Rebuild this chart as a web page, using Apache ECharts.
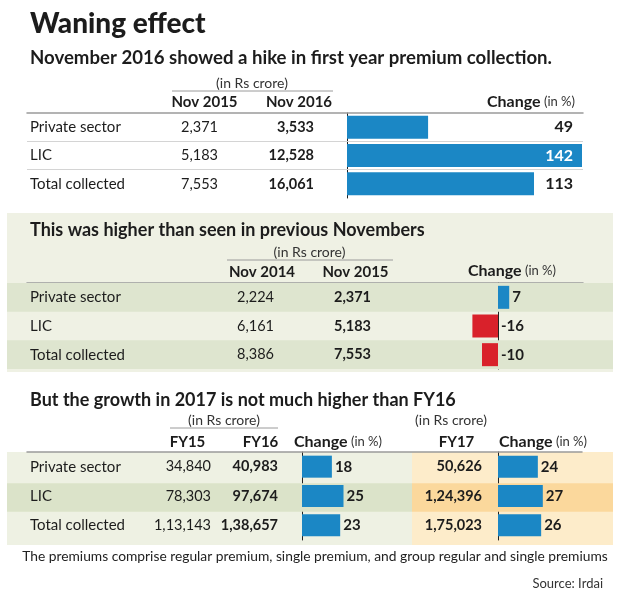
<!DOCTYPE html>
<html><head><meta charset="utf-8">
<script src="https://cdn.jsdelivr.net/npm/echarts@6/dist/echarts.min.js"></script>
<style>html,body{margin:0;padding:0;background:#fff}#c{width:621px;height:597px}</style>
</head><body><div id="c"></div>
<script>
// ---------- DATA ----------
const rows = ['Private sector', 'LIC', 'Total collected'];
// Table 1: Nov 2015 vs Nov 2016
const nov2015 = [2371, 5183, 7553];
const nov2016 = [3533, 12528, 16061];
const change1 = [49, 142, 113];
// Table 2: Nov 2014 vs Nov 2015
const nov2014 = [2224, 6161, 8386];
const nov2015b = [2371, 5183, 7553];
const change2 = [7, -16, -10];
// Table 3: FY15, FY16, FY17
const fy15 = [34840, 78303, 113143];
const fy16 = [40983, 97674, 138657];
const changeFy16 = [18, 25, 23];
const fy17 = [50626, 124396, 175023];
const changeFy17 = [24, 27, 26];
// Texts
const titleText = 'Waning effect';
const sub1 = 'November 2016 showed a hike in first year premium collection.';
const sub2 = 'This was higher than seen in previous Novembers';
const sub3 = 'But the growth in 2017 is not much higher than FY16';
const unitText = '(in Rs crore)';
const headers1 = ['Nov 2015', 'Nov 2016'];
const headers2 = ['Nov 2014', 'Nov 2015'];
const headers3 = ['FY15', 'FY16', 'FY17'];
const changeHead = '{b|Change} {n|(in %)}';
const footnote = 'The premiums comprise regular premium, single premium, and group regular and single premiums';
const sourceText = 'Source: Irdai';

// ---------- STYLE ----------
const FONT = 'Lato';
const INK = '#1c1c1c';
const BLUE = '#1b87c5';
const RED = '#d9212b';
const NUM = 14.5;

function inr(n) {
  const neg = n < 0; let s = String(Math.abs(n));
  if (s.length > 3) {
    const last3 = s.slice(-3); let rest = s.slice(0, -3); const parts = [];
    while (rest.length > 2) { parts.unshift(rest.slice(-2)); rest = rest.slice(0, -2); }
    if (rest) parts.unshift(rest);
    s = parts.join(',') + ',' + last3;
  }
  return (neg ? '-' : '') + s;
}

const grids = [], xAxes = [], yAxes = [], series = [], graphics = [];
function addGrid(left, top, width, height) {
  grids.push({left, top, width, height, containLabel: false, outerBoundsMode: 'none'});
  return grids.length - 1;
}
function headerX(gi, show) {
  xAxes.push({type: 'value', gridIndex: gi, min: 0, max: 1, position: 'top', show: true,
    axisLine: {show: show, onZero: false, lineStyle: {color: '#9a9a9a', width: 1.5}},
    axisTick: {show: false}, axisLabel: {show: false}, splitLine: {show: false}});
}
function col(gi, data, margin, opts) {
  yAxes.push({type: 'category', gridIndex: gi, inverse: true, data, position: 'left', z: 10,
    axisLine: {show: false}, axisTick: {show: false}, splitLine: {show: false},
    axisLabel: Object.assign({show: true, inside: true, margin, align: 'left', interval: 0,
      fontFamily: FONT, fontSize: NUM, color: INK, hideOverlap: false}, opts)});
  return yAxes.length - 1;
}
function bandAxis(gi, colors) {
  xAxes.push({type: 'value', gridIndex: gi, min: 0, max: 1, show: false});
  yAxes.push({type: 'category', gridIndex: gi, inverse: true, data: rows, z: 1,
    axisLine: {show: false}, axisTick: {show: false}, axisLabel: {show: false},
    splitLine: {show: false}, splitArea: {show: true, areaStyle: {color: colors}}});
}
function barAxes(gi, min, max) {
  xAxes.push({type: 'value', gridIndex: gi, min, max, show: false});
  yAxes.push({type: 'category', gridIndex: gi, inverse: true, data: rows,
    axisLine: {show: true, onZero: true, lineStyle: {color: '#222', width: 1}},
    axisTick: {show: false}, axisLabel: {show: false}, splitLine: {show: false}});
  return [xAxes.length - 1, yAxes.length - 1];
}
function barSeries(axes, data, barWidth, withLabel) {
  series.push({type: 'bar', xAxisIndex: axes[0], yAxisIndex: axes[1], data, barWidth,
    itemStyle: {color: p => (p.value >= 0 ? BLUE : RED)},
    label: {show: withLabel, position: 'right', distance: 3, formatter: '{c}',
      fontFamily: FONT, fontSize: 15, fontWeight: 'bold', color: INK}});
}
function txt(x, y, text, size, weight, align, color) {
  graphics.push({type: 'text', x, y, z: 100, style: {text, fontFamily: FONT, fontSize: size,
    fontWeight: weight, fill: color || INK, align: align || 'left', verticalAlign: 'middle'}});
}
function changeTxt(x, y) {
  graphics.push({type: 'text', x, y, z: 100, style: {text: changeHead, align: 'right', verticalAlign: 'middle',
    fill: INK, rich: {b: {fontFamily: FONT, fontSize: 16, fontWeight: 'bold', fill: INK},
      n: {fontFamily: FONT, fontSize: 13, fill: '#333'}}}});
}
function line(x1, y1, x2, y2, color, w) {
  graphics.push({type: 'line', z: 100, shape: {x1, y1, x2, y2}, style: {stroke: color, lineWidth: w}});
}
function rect(x, y, width, height, fill) {
  graphics.push({type: 'rect', z: -10, shape: {x, y, width, height}, style: {fill}});
}

// ---------- TITLES ----------
txt(30, 24, titleText, 28, 900);
txt(30, 57.5, sub1, 18.6, 'bold');

// ---------- TABLE 1 ----------
txt(252, 83, unitText, 14, 'normal', 'center', '#333');
line(172, 91, 333, 91, '#9a9a9a', 1);
txt(204.5, 102, headers1[0], 15, 'bold', 'center');
txt(299, 102, headers1[1], 15, 'bold', 'center');
changeTxt(575, 102);
let g = addGrid(27, 113, 556, 85);
headerX(g, true);
col(g, rows, 3, {fontSize: 15});
yAxes[yAxes.length - 1].splitLine = {show: true, showMinLine: false, showMaxLine: false,
  lineStyle: {color: '#d4d4d4', width: 1}};
col(g, nov2015.map(inr), 191, {align: 'right'});
col(g, nov2016.map(inr), 287, {align: 'right', fontWeight: 'bold'});
col(g, change1.map(String), 546, {align: 'right', fontWeight: 'bold', fontSize: 16,
  color: (v, i) => (change1[i] === Math.max(...change1) ? '#ffffff' : INK)});
g = addGrid(347, 113, 235, 85);
barSeries(barAxes(g, 0, 142), change1, 23, false);

// ---------- TABLE 2 ----------
rect(7, 213, 606, 159, '#eff1e4');
txt(30, 230, sub2, 18, 'bold');
txt(309.5, 252, unitText, 14, 'normal', 'center', '#333');
line(227, 260, 393, 260, '#9a9a9a', 1);
txt(262, 272, headers2[0], 15, 'bold', 'center');
txt(355.5, 272, headers2[1], 15, 'bold', 'center');
changeTxt(556, 271);
g = addGrid(7, 283, 606, 86);
bandAxis(g, ['#dee5cf', 'rgba(0,0,0,0)']);
g = addGrid(27, 283, 556, 86);
headerX(g, true);
col(g, rows, 3, {fontSize: 15});
col(g, nov2014.map(inr), 247, {align: 'right'});
col(g, nov2015b.map(inr), 344, {align: 'right', fontWeight: 'bold'});
g = addGrid(466, 283, 80, 86);
barSeries(barAxes(g, -20, 30), change2, 23, true);

// ---------- TABLE 3 ----------
txt(30, 400, sub3, 18, 'bold');
txt(224, 420, unitText, 14, 'normal', 'center', '#333');
line(170, 428, 278, 428, '#9a9a9a', 1);
txt(451, 420, unitText, 14, 'normal', 'center', '#333');
txt(187.5, 442, headers3[0], 15, 'bold', 'center');
txt(260.5, 442, headers3[1], 15, 'bold', 'center');
changeTxt(382, 442);
txt(456.5, 442, headers3[2], 15, 'bold', 'center');
changeTxt(587, 442);
rect(7, 452, 405, 93, '#eef1e3');
rect(412, 452, 201, 93, '#fdecca');
g = addGrid(7, 455, 405, 85);
bandAxis(g, ['rgba(0,0,0,0)', '#dbe3c9']);
g = addGrid(412, 455, 201, 85);
bandAxis(g, ['rgba(0,0,0,0)', '#fbd89c']);
g = addGrid(27, 452, 555, 88);
headerX(g, true);
col(g, rows, 3, {fontSize: 15});
col(g, fy15.map(inr), 184, {align: 'right'});
col(g, fy16.map(inr), 251, {align: 'right', fontWeight: 'bold'});
col(g, fy17.map(inr), 455, {align: 'right', fontWeight: 'bold'});
g = addGrid(302, 452, 83, 88);
barSeries(barAxes(g, 0, 50), changeFy16, 22, true);
g = addGrid(498, 452, 83, 88);
barSeries(barAxes(g, 0, 50), changeFy17, 22, true);

// ---------- FOOTER ----------
txt(315, 557, footnote, 13.8, 'normal', 'center', '#222');
txt(603, 584, sourceText, 13, 'normal', 'right', '#333');

const chart = echarts.init(document.getElementById('c'), null, {renderer: 'canvas'});
chart.setOption({
  animation: false,
  backgroundColor: '#ffffff',
  grid: grids, xAxis: xAxes, yAxis: yAxes, series,
  graphic: {elements: graphics}
});
</script>
</body></html>
